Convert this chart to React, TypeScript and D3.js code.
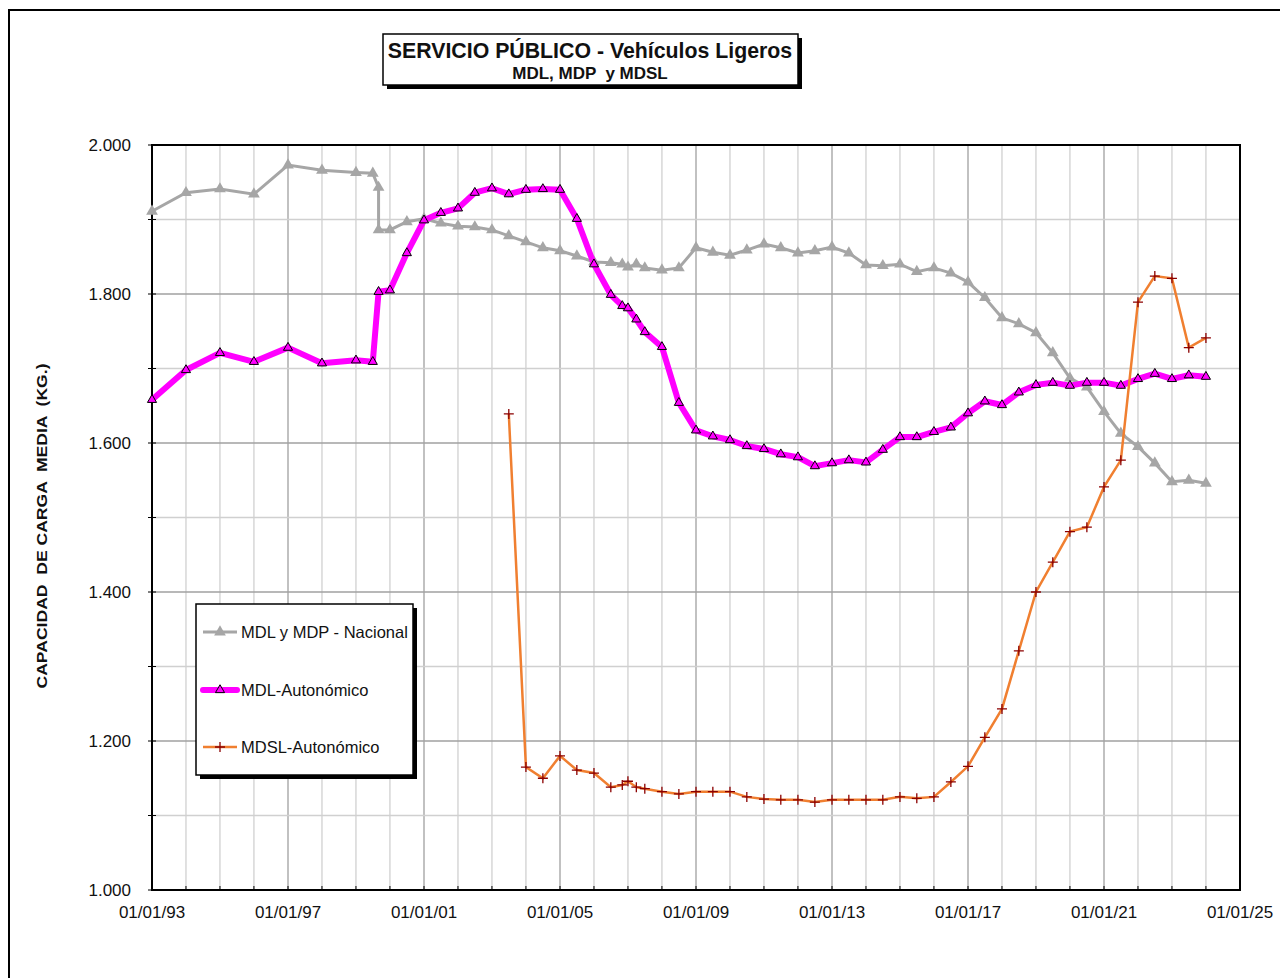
import React, { useRef, useEffect } from "react";
import * as d3 from "d3";

// MDL y MDP - Nacional
const fechasNacional = [
  "1993-01-01", "1994-01-01", "1995-01-01", "1996-01-01", "1997-01-01", "1998-01-01",
  "1999-01-01", "1999-07-01", "1999-09-01", "1999-09-01", "2000-01-01", "2000-07-01",
  "2001-01-01", "2001-07-01", "2002-01-01", "2002-07-01", "2003-01-01", "2003-07-01",
  "2004-01-01", "2004-07-01", "2005-01-01", "2005-07-01", "2006-01-01", "2006-07-01",
  "2006-11-01", "2007-01-01", "2007-04-01", "2007-07-01", "2008-01-01", "2008-07-01",
  "2009-01-01", "2009-07-01", "2010-01-01", "2010-07-01", "2011-01-01", "2011-07-01",
  "2012-01-01", "2012-07-01", "2013-01-01", "2013-07-01", "2014-01-01", "2014-07-01",
  "2015-01-01", "2015-07-01", "2016-01-01", "2016-07-01", "2017-01-01", "2017-07-01",
  "2018-01-01", "2018-07-01", "2019-01-01", "2019-07-01", "2020-01-01", "2020-07-01",
  "2021-01-01", "2021-07-01", "2022-01-01", "2022-07-01", "2023-01-01", "2023-07-01",
  "2024-01-01",
];
const valoresNacional = [
  1911, 1936, 1941, 1934, 1973, 1966,
  1963, 1962, 1943, 1886, 1886, 1897,
  1901, 1895, 1891, 1890, 1886, 1878,
  1870, 1862, 1858, 1851, 1843, 1842,
  1840, 1836, 1840, 1835, 1832, 1835,
  1862, 1856, 1852, 1859, 1867, 1862,
  1855, 1858, 1863, 1855, 1839, 1838,
  1840, 1830, 1835, 1828, 1816, 1795,
  1768, 1760, 1748, 1721, 1687, 1675,
  1642, 1613, 1595, 1573, 1548, 1550,
  1546,
];

// MDL-Autonómico
const fechasMDL = [
  "1993-01-01", "1994-01-01", "1995-01-01", "1996-01-01", "1997-01-01", "1998-01-01",
  "1999-01-01", "1999-07-01", "1999-09-01", "2000-01-01", "2000-07-01",
  "2001-01-01", "2001-07-01", "2002-01-01", "2002-07-01", "2003-01-01", "2003-07-01",
  "2004-01-01", "2004-07-01", "2005-01-01", "2005-07-01", "2006-01-01", "2006-07-01",
  "2006-11-01", "2007-01-01", "2007-04-01", "2007-07-01", "2008-01-01", "2008-07-01",
  "2009-01-01", "2009-07-01", "2010-01-01", "2010-07-01", "2011-01-01", "2011-07-01",
  "2012-01-01", "2012-07-01", "2013-01-01", "2013-07-01", "2014-01-01", "2014-07-01",
  "2015-01-01", "2015-07-01", "2016-01-01", "2016-07-01", "2017-01-01", "2017-07-01",
  "2018-01-01", "2018-07-01", "2019-01-01", "2019-07-01", "2020-01-01", "2020-07-01",
  "2021-01-01", "2021-07-01", "2022-01-01", "2022-07-01", "2023-01-01", "2023-07-01",
  "2024-01-01",
];
const valoresMDL = [
  1658, 1698, 1721, 1709, 1728, 1707,
  1711, 1709, 1803, 1805, 1855,
  1899, 1909, 1915, 1936, 1942, 1934,
  1940, 1941, 1940, 1901, 1840, 1799,
  1784, 1781, 1766, 1749, 1729, 1654,
  1617, 1609, 1604, 1596, 1592, 1585,
  1581, 1569, 1573, 1577, 1574, 1591,
  1608, 1608, 1615, 1621, 1640, 1656,
  1651, 1668, 1678, 1681, 1677, 1681,
  1681, 1677, 1686, 1693, 1686, 1691,
  1689,
];

// MDSL-Autonómico
const fechasMDSL = [
  "2003-07-01",
  "2004-01-01", "2004-07-01", "2005-01-01", "2005-07-01", "2006-01-01", "2006-07-01",
  "2006-11-01", "2007-01-01", "2007-04-01", "2007-07-01", "2008-01-01", "2008-07-01",
  "2009-01-01", "2009-07-01", "2010-01-01", "2010-07-01", "2011-01-01", "2011-07-01",
  "2012-01-01", "2012-07-01", "2013-01-01", "2013-07-01", "2014-01-01", "2014-07-01",
  "2015-01-01", "2015-07-01", "2016-01-01", "2016-07-01", "2017-01-01", "2017-07-01",
  "2018-01-01", "2018-07-01", "2019-01-01", "2019-07-01", "2020-01-01", "2020-07-01",
  "2021-01-01", "2021-07-01", "2022-01-01", "2022-07-01", "2023-01-01", "2023-07-01",
  "2024-01-01",
];
const valoresMDSL = [
  1639,
  1165, 1150, 1180, 1161, 1157, 1138,
  1141, 1146, 1138, 1136, 1132, 1129,
  1132, 1132, 1132, 1125, 1122, 1121,
  1121, 1118, 1121, 1121, 1121, 1121,
  1125, 1123, 1125, 1145, 1166, 1205,
  1243, 1321, 1400, 1440, 1481, 1487,
  1541, 1577, 1789, 1824, 1821, 1728,
  1741,
];

const xTickYears = [1993, 1997, 2001, 2005, 2009, 2013, 2017, 2021, 2025];
const yTicks = [1000, 1200, 1400, 1600, 1800, 2000];

const FONT = "Arial, 'Liberation Sans', sans-serif";

const App = () => {
  const ref: any = useRef();

  useEffect(() => {
    const svg = d3.select(ref.current);
    svg.selectAll("*").remove();

    const parse = d3.timeParse("%Y-%m-%d");
    const left = 152, right = 1240, top = 145, bottom = 890;

    const xScale = d3
      .scaleTime()
      .domain([new Date(1993, 0, 1), new Date(2025, 0, 1)])
      .range([left, right]);
    const yScale = d3.scaleLinear().domain([1000, 2000]).range([bottom, top]);

    const locale = d3.formatLocale({
      decimal: ",",
      thousands: ".",
      grouping: [3],
      currency: ["", "€"],
    });
    const fmtY = locale.format(",.0f");
    const fmtX = d3.timeFormat("%d/%m/%y");

    // outer chart frame
    svg
      .append("rect")
      .attr("x", 9)
      .attr("y", 10)
      .attr("width", 1300)
      .attr("height", 1000)
      .attr("fill", "white")
      .attr("stroke", "black")
      .attr("stroke-width", 2);

    // grid: yearly verticals, 100-kg horizontals
    const years = d3.range(1994, 2025);
    svg
      .append("g")
      .selectAll("line")
      .data(years)
      .enter()
      .append("line")
      .attr("x1", (d: any) => xScale(new Date(d, 0, 1)))
      .attr("x2", (d: any) => xScale(new Date(d, 0, 1)))
      .attr("y1", top)
      .attr("y2", bottom)
      .attr("stroke", (d: any) => ((d - 1993) % 4 === 0 ? "#a0a0a0" : "#d0d0d0"))
      .attr("stroke-width", 1.3);

    const levels = d3.range(1100, 2000, 100);
    svg
      .append("g")
      .selectAll("line")
      .data(levels)
      .enter()
      .append("line")
      .attr("x1", left)
      .attr("x2", right)
      .attr("y1", (d: any) => yScale(d))
      .attr("y2", (d: any) => yScale(d))
      .attr("stroke", (d: any) => (d % 200 === 0 ? "#a0a0a0" : "#d0d0d0"))
      .attr("stroke-width", 1.3);

    // plot frame
    svg
      .append("rect")
      .attr("x", left)
      .attr("y", top)
      .attr("width", right - left)
      .attr("height", bottom - top)
      .attr("fill", "none")
      .attr("stroke", "black")
      .attr("stroke-width", 2);

    // y axis ticks + labels
    svg
      .append("g")
      .selectAll("line")
      .data(d3.range(1000, 2001, 100))
      .enter()
      .append("line")
      .attr("x1", left - 4)
      .attr("x2", left + 4)
      .attr("y1", (d: any) => yScale(d))
      .attr("y2", (d: any) => yScale(d))
      .attr("stroke", "black");

    svg
      .append("g")
      .selectAll("text")
      .data(yTicks)
      .enter()
      .append("text")
      .attr("x", 131)
      .attr("y", (d: any) => yScale(d) + 6)
      .attr("text-anchor", "end")
      .attr("font-family", FONT)
      .attr("font-size", 17)
      .attr("fill", "#111")
      .text((d: any) => fmtY(d));

    // x axis ticks + labels
    svg
      .append("g")
      .selectAll("line")
      .data(d3.range(1993, 2026))
      .enter()
      .append("line")
      .attr("x1", (d: any) => xScale(new Date(d, 0, 1)))
      .attr("x2", (d: any) => xScale(new Date(d, 0, 1)))
      .attr("y1", bottom - 4)
      .attr("y2", bottom + 1)
      .attr("stroke", "black");

    svg
      .append("g")
      .selectAll("text")
      .data(xTickYears)
      .enter()
      .append("text")
      .attr("x", (d: any) => xScale(new Date(d, 0, 1)))
      .attr("y", 918)
      .attr("text-anchor", "middle")
      .attr("font-family", FONT)
      .attr("font-size", 17)
      .attr("fill", "#111")
      .text((d: any) => fmtX(new Date(d, 0, 1)));

    // y axis title
    svg
      .append("text")
      .attr("transform", "translate(47,526) rotate(-90)")
      .attr("text-anchor", "middle")
      .attr("font-family", "'Liberation Sans Narrow', 'Arial Narrow', Arial, sans-serif")
      .attr("font-weight", "bold")
      .attr("font-size", 15)
      .attr("textLength", 325)
      .attr("lengthAdjust", "spacingAndGlyphs")
      .attr("fill", "#111")
      .style("white-space", "pre")
      .text("CAPACIDAD  DE CARGA  MEDIA  (KG.)");

    const toPoints = (dates: string[], vals: number[]) =>
      dates.map((d, i) => ({ date: parse(d) as Date, value: vals[i] }));

    const line = d3
      .line<any>()
      .x((d) => xScale(d.date))
      .y((d) => yScale(d.value));

    const tri = d3.symbol().type(d3.symbolTriangle);

    // gray series
    const nacional = toPoints(fechasNacional, valoresNacional);
    svg
      .append("path")
      .datum(nacional)
      .attr("d", line)
      .attr("fill", "none")
      .attr("stroke", "#a6a6a6")
      .attr("stroke-width", 3);
    svg
      .append("g")
      .selectAll("path")
      .data(nacional)
      .enter()
      .append("path")
      .attr("d", tri.size(60)() as string)
      .attr("transform", (d: any) => `translate(${xScale(d.date)},${yScale(d.value)})`)
      .attr("fill", "#a6a6a6");

    // magenta series
    const mdl = toPoints(fechasMDL, valoresMDL);
    svg
      .append("path")
      .datum(mdl)
      .attr("d", line)
      .attr("fill", "none")
      .attr("stroke", "#ff00ff")
      .attr("stroke-width", 6)
      .attr("stroke-linejoin", "round");
    svg
      .append("g")
      .selectAll("path")
      .data(mdl)
      .enter()
      .append("path")
      .attr("d", tri.size(36)() as string)
      .attr("transform", (d: any) => `translate(${xScale(d.date)},${yScale(d.value)})`)
      .attr("fill", "#ff00ff")
      .attr("stroke", "black")
      .attr("stroke-width", 1);

    // orange series
    const mdsl = toPoints(fechasMDSL, valoresMDSL);
    svg
      .append("path")
      .datum(mdsl)
      .attr("d", line)
      .attr("fill", "none")
      .attr("stroke", "#f07f30")
      .attr("stroke-width", 2.5);
    svg
      .append("g")
      .selectAll("path")
      .data(mdsl)
      .enter()
      .append("path")
      .attr("d", "M-5,0H5M0,-5V5")
      .attr("transform", (d: any) => `translate(${xScale(d.date)},${yScale(d.value)})`)
      .attr("stroke", "#8b0000")
      .attr("stroke-width", 1.3);

    // legend
    const lg = svg.append("g");
    lg.append("rect")
      .attr("x", 200).attr("y", 608).attr("width", 217).attr("height", 171)
      .attr("fill", "black");
    lg.append("rect")
      .attr("x", 196).attr("y", 604).attr("width", 217).attr("height", 171)
      .attr("fill", "white").attr("stroke", "black").attr("stroke-width", 1.5);

    const legendItems = [
      { label: "MDL y MDP - Nacional", y: 632 },
      { label: "MDL-Autonómico", y: 690 },
      { label: "MDSL-Autonómico", y: 747 },
    ];
    lg.selectAll("text")
      .data(legendItems)
      .enter()
      .append("text")
      .attr("x", 241)
      .attr("y", (d: any) => d.y + 6)
      .attr("font-family", FONT)
      .attr("font-size", 16.5)
      .attr("fill", "#111")
      .text((d: any) => d.label);

    lg.append("line").attr("x1", 203).attr("x2", 237).attr("y1", 632).attr("y2", 632)
      .attr("stroke", "#a6a6a6").attr("stroke-width", 3);
    lg.append("path").attr("d", tri.size(60)() as string)
      .attr("transform", "translate(220,632)").attr("fill", "#a6a6a6");

    lg.append("line").attr("x1", 203).attr("x2", 237).attr("y1", 690).attr("y2", 690)
      .attr("stroke", "#ff00ff").attr("stroke-width", 6).attr("stroke-linecap", "round");
    lg.append("path").attr("d", tri.size(36)() as string)
      .attr("transform", "translate(220,690)").attr("fill", "#ff00ff")
      .attr("stroke", "black").attr("stroke-width", 1);

    lg.append("line").attr("x1", 203).attr("x2", 237).attr("y1", 747).attr("y2", 747)
      .attr("stroke", "#f07f30").attr("stroke-width", 2.5);
    lg.append("path").attr("d", "M-5,0H5M0,-5V5")
      .attr("transform", "translate(220,747)")
      .attr("stroke", "#8b0000").attr("stroke-width", 1.3);

    // title box
    const tg = svg.append("g");
    tg.append("rect").attr("x", 387).attr("y", 38).attr("width", 415).attr("height", 51)
      .attr("fill", "black");
    tg.append("rect").attr("x", 383).attr("y", 34).attr("width", 415).attr("height", 51)
      .attr("fill", "white").attr("stroke", "black").attr("stroke-width", 1.5);
    tg.append("text")
      .attr("x", 590).attr("y", 58)
      .attr("text-anchor", "middle")
      .attr("font-family", FONT).attr("font-weight", "bold").attr("font-size", 21.3)
      .attr("fill", "#111")
      .text("SERVICIO PÚBLICO - Vehículos Ligeros");
    tg.append("text")
      .attr("x", 590).attr("y", 79)
      .attr("text-anchor", "middle")
      .attr("font-family", FONT).attr("font-weight", "bold").attr("font-size", 17)
      .attr("fill", "#111")
      .style("white-space", "pre")
      .text("MDL, MDP  y MDSL");
  }, []);

  return (
    <svg
      ref={ref}
      width={1280}
      height={978}
      style={{ position: "absolute", left: 0, top: 0, background: "white" }}
    ></svg>
  );
};

export default App;
